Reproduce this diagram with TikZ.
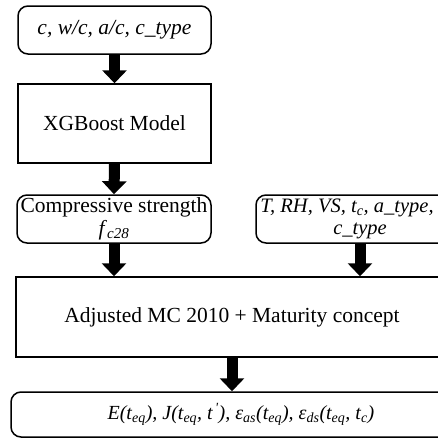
\documentclass[tikz,border=0pt]{standalone}
\usepackage{fontspec}
\setmainfont{Liberation Serif}
\usetikzlibrary{arrows.meta}
\begin{document}
\begin{tikzpicture}[x=1pt,y=1pt,
  box/.style={draw, line width=1.5pt, inner sep=0pt, align=center,
    font=\fontsize{21.5}{24}\selectfont},
  rbox/.style={box, rounded corners=10pt},
  fat/.style={line width=11pt, -{Triangle[width=24pt,length=13pt]}}]
\fill[white] (0,0) rectangle (437,-439);
\path[use as bounding box] (0,0) rectangle (437,-439);
\node[rbox, minimum width=193pt, minimum height=48pt] (in1) at (114.5,-30)
  {\itshape c, w/c, a/c, c\_type};
\node[box, minimum width=193pt, minimum height=79pt] (xgb) at (114.5,-123.5)
  {XGBoost Model};
\node[rbox, minimum width=194pt, minimum height=48pt] (fc) at (114,-219)
  {Compressive strength\\[-1pt] \textit{f}\textsubscript{\itshape c28}};
\node[rbox, minimum width=208pt, minimum height=48pt, font=\fontsize{20.5}{23}\selectfont] (in2) at (360,-219)
  {\itshape T, RH, VS, t\textsubscript{c}, a\_type,\hspace*{26pt}\\[-1pt] \itshape c\_type};
\node[box, minimum width=432pt, minimum height=80pt] (mc) at (232,-317)
  {Adjusted MC 2010 + Maturity concept};
\node[rbox, minimum width=460pt, minimum height=45pt, font=\fontsize{20}{24}\selectfont] (out) at (241,-414.5)
  {\itshape E(t\textsubscript{eq}), J(t\textsubscript{eq}, t\textsuperscript{\,\textquotesingle}), ε\textsubscript{as}(t\textsubscript{eq}), ε\textsubscript{ds}(t\textsubscript{eq}, t\textsubscript{c})};
\draw[fat] (in1.south) -- (xgb.north);
\draw[fat] (xgb.south) -- (fc.north);
\draw[fat] (fc.south) -- (fc.south |- mc.north);
\draw[fat] (in2.south) -- (in2.south |- mc.north);
\draw[fat] (mc.south) -- (mc.south |- out.north);
\end{tikzpicture}
\end{document}
